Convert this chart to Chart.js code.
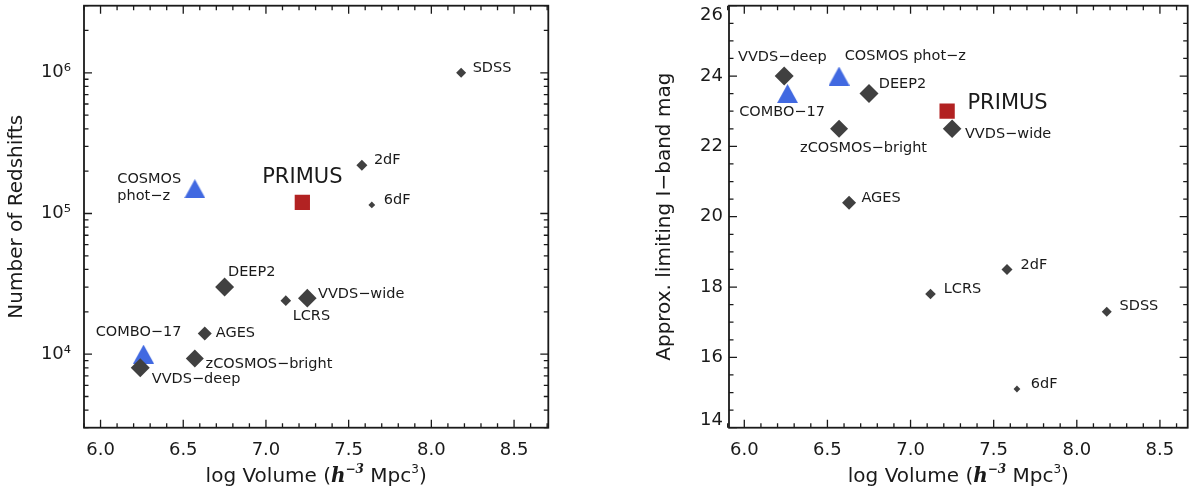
<!DOCTYPE html>
<html>
<head>
<meta charset="utf-8">
<script src="https://cdn.jsdelivr.net/npm/chart.js@4.4.1/dist/chart.umd.min.js"></script>
<style>
  html, body { margin: 0; padding: 0; background: #fff; }
  .panel { position: absolute; top: 0; width: 595px; height: 491px; }
  #left { left: 0; }
  #right { left: 595px; }
</style>
</head>
<body>
<div class="panel" id="left"><canvas id="nzChart"></canvas></div>
<div class="panel" id="right"><canvas id="magChart"></canvas></div>
<script>
// spectroscopic surveys
const surveys    = ['SDSS', '2dF', '6dF', 'LCRS', 'AGES', 'DEEP2', 'VVDS−wide', 'zCOSMOS−bright', 'VVDS−deep'];
const log_volume = [8.18, 7.58, 7.64, 7.12, 6.63, 6.75, 7.25, 6.57, 6.24];
const n_redshift = [1.0e6, 2.2e5, 1.15e5, 2.4e4, 1.4e4, 3.0e4, 2.5e4, 9.3e3, 8.0e3];
const i_limit    = [17.3, 18.5, 15.1, 17.8, 20.4, 23.5, 22.5, 22.5, 24.0];

// photometric-redshift surveys
const photoz_surveys    = ['COSMOS phot−z', 'COMBO−17'];
const photoz_log_volume = [6.57, 6.26];
const photoz_n_redshift = [1.5e5, 1.0e4];
const photoz_i_limit    = [24.0, 23.5];

// PRIMUS
const primus_name       = ['PRIMUS'];
const primus_log_volume = [7.22];
const primus_n_redshift = [1.2e5];
const primus_i_limit    = [23.0];

// tick labels
const x_ticks   = [6.0, 6.5, 7.0, 7.5, 8.0, 8.5];
const n_ticks   = [1e4, 1e5, 1e6];
const mag_ticks = [14, 16, 18, 20, 22, 24, 26];

//styles
const DARK = '#404040', BLUE = '#4169e1', RED = '#b22222', INK = '#1a1a1a';
const FONT = "'DejaVu Sans', sans-serif";

// diamond half-diagonals in px
const diamond_size = {
  'SDSS': 5, '2dF': 5.5, '6dF': 3.4, 'LCRS': 5.3, 'AGES': 7,
  'DEEP2': 9.5, 'VVDS−wide': 9.3, 'zCOSMOS−bright': 9, 'VVDS−deep': 9.5
};

// label offsets from each marker: dx, dy, align, font size, extra lines
const nz_place = {
  'SDSS': {dx: 11.5, dy: -4.3},
  '2dF': {dx: 12, dy: -4.7},
  '6dF': {dx: 12, dy: -5},
  'LCRS': {dx: 25.6, dy: 15.7, align: 'center'},
  'AGES': {dx: 11, dy: -0.7},
  'DEEP2': {dx: 3.4, dy: -14.7},
  'VVDS−wide': {dx: 10.7, dy: -4},
  'zCOSMOS−bright': {dx: 10.7, dy: 5.7},
  'VVDS−deep': {dx: 11.5, dy: 11.7},
  'COSMOS phot−z': {dx: -77.5, dy: -9.2, lines: ['COSMOS', 'phot−z'], lh: 16.4},
  'COMBO−17': {dx: -5, dy: -21.7, align: 'center'},
  'PRIMUS': {dx: 0, dy: -25, align: 'center', size: 21}
};
const mag_place = {
  'SDSS': {dx: 12.8, dy: -5.3},
  '2dF': {dx: 13.5, dy: -4.3},
  '6dF': {dx: 13.9, dy: -5},
  'LCRS': {dx: 13.2, dy: -5},
  'AGES': {dx: 12.4, dy: -4.7},
  'DEEP2': {dx: 9.8, dy: -9},
  'VVDS−wide': {dx: 12.8, dy: 5.3},
  'zCOSMOS−bright': {dx: 24.5, dy: 19, align: 'center'},
  'VVDS−deep': {dx: -1.9, dy: -18.3, align: 'center'},
  'COSMOS phot−z': {dx: 5.6, dy: -19.3},
  'COMBO−17': {dx: -5.5, dy: 18.8, align: 'center'},
  'PRIMUS': {dx: 20.3, dy: -7.3, size: 21}
};

// triangle drawn on its bounding box, so it is centred like the original symbol
function triangle(w, h, color) {
  const c = document.createElement('canvas');
  c.width = w; c.height = h;
  const g = c.getContext('2d');
  g.fillStyle = color;
  g.beginPath();
  g.moveTo(w / 2, 0); g.lineTo(w, h); g.lineTo(0, h);
  g.closePath(); g.fill();
  return c;
}
const tri = triangle(21, 19, BLUE);

// minor tick positions
const x_minor = [];
for (let k = 59; k <= 87; k++) if (k % 5) x_minor.push(k / 10);
const n_minor = [];
for (let e = 3; e <= 6; e++) for (let m = 2; m <= 9; m++) {
  const v = m * Math.pow(10, e);
  if (v >= 3e3 && v <= 3e6) n_minor.push(v);
}
const mag_minor = [];
for (let k = 28; k <= 52; k++) if (k % 4) mag_minor.push(k / 2);

//frame with inward ticks on all four sides
const framePlugin = {
  id: 'frame',
  beforeDraw(chart, args, opts) {
    // keep the end labels of the y axis inside the frame, as in the original
    if (!opts.clampEnds) return;
    const y = chart.scales.y;
    const items = y.getLabelItems ? y.getLabelItems() : null;
    if (!items || !items.length) return;
    const a = chart.chartArea;
    items.forEach(it => {
      const t = it.options.translation;
      if (Math.abs(t[1] - a.bottom) < 1) t[1] -= 7.5;
      else if (Math.abs(t[1] - a.top) < 1) t[1] += 9.5;
    });
  },
  afterDraw(chart, args, opts) {
    const {ctx, chartArea: a, scales: {x, y}} = chart;
    ctx.save();
    ctx.strokeStyle = INK;
    ctx.lineWidth = 1.3;
    ctx.beginPath();
    const xt = (vals, len) => vals.forEach(v => {
      const p = x.getPixelForValue(v);
      ctx.moveTo(p, a.bottom); ctx.lineTo(p, a.bottom - len);
      ctx.moveTo(p, a.top); ctx.lineTo(p, a.top + len);
    });
    const yt = (vals, len) => vals.forEach(v => {
      const p = y.getPixelForValue(v);
      ctx.moveTo(a.left, p); ctx.lineTo(a.left + len, p);
      ctx.moveTo(a.right, p); ctx.lineTo(a.right - len, p);
    });
    xt(x_ticks, 8); xt(x_minor, 4.5);
    yt(opts.yMajor, 8); yt(opts.yMinor, 4.5);
    ctx.stroke();
    ctx.lineWidth = 1.8;
    ctx.strokeRect(a.left, a.top, a.width, a.height);
    ctx.restore();
  }
};

const labelPlugin = {
  id: 'pointLabels',
  afterDatasetsDraw(chart, args, opts) {
    const ctx = chart.ctx;
    ctx.save();
    ctx.fillStyle = INK;
    ctx.textBaseline = 'middle';
    chart.data.datasets.forEach((ds, di) => {
      chart.getDatasetMeta(di).data.forEach((pt, i) => {
        const name = ds.names[i];
        const p = opts.place[name];
        ctx.font = (p.size || 14.5) + 'px ' + FONT;
        ctx.textAlign = p.align || 'left';
        const lines = p.lines || [name];
        lines.forEach((t, k) => ctx.fillText(t, pt.x + p.dx, pt.y + p.dy + k * (p.lh || 0)));
      });
    });
    ctx.restore();
  }
};

// x title with the bold italic h
const xTitlePlugin = {
  id: 'xTitle',
  afterDraw(chart) {
    const ctx = chart.ctx, a = chart.chartArea;
    const parts = [
      {t: 'log Volume (', f: '20px ' + FONT, rise: 0},
      {t: 'h', f: "italic bold 20px 'DejaVu Serif', serif", rise: 0},
      {t: '−3', f: "italic bold 12px 'DejaVu Serif', serif", rise: 9},
      {t: ' Mpc', f: '20px ' + FONT, rise: 0},
      {t: '3', f: '12px ' + FONT, rise: 9},
      {t: ')', f: '20px ' + FONT, rise: 0}
    ];
    ctx.save();
    ctx.fillStyle = INK;
    ctx.textBaseline = 'alphabetic';
    ctx.textAlign = 'left';
    let total = 0;
    parts.forEach(s => { ctx.font = s.f; s.w = ctx.measureText(s.t).width; total += s.w; });
    let x = (a.left + a.right) / 2 - total / 2;
    const base = chart.height - 9;
    parts.forEach(s => { ctx.font = s.f; ctx.fillText(s.t, x, base - s.rise); x += s.w; });
    ctx.restore();
  }
};

const sup = {4: '⁴', 5: '⁵', 6: '⁶'};

function makePanel(canvasId, o) {
  return new Chart(document.getElementById(canvasId), {
    type: 'scatter',
    data: {
      datasets: [{
        names: surveys,
        data: log_volume.map((v, i) => ({x: v, y: o.y[i]})),
        pointStyle: 'rectRot',
        pointRadius: surveys.map(s => diamond_size[s]),
        backgroundColor: DARK,
        borderWidth: 0
      }, {
        names: photoz_surveys,
        data: photoz_log_volume.map((v, i) => ({x: v, y: o.photoY[i]})),
        pointStyle: tri,
        pointRadius: 10,
        backgroundColor: BLUE,
        borderWidth: 0
      }, {
        names: primus_name,
        data: primus_log_volume.map((v, i) => ({x: v, y: o.primusY[i]})),
        pointStyle: 'rect',
        pointRadius: 10.8,
        backgroundColor: RED,
        borderWidth: 0
      }]
    },
    options: {
      animation: false,
      responsive: true,
      maintainAspectRatio: false,
      events: [],
      layout: {autoPadding: false, padding: {top: 5.7, right: o.padRight, left: 0, bottom: 0}},
      plugins: {
        legend: {display: false},
        tooltip: {enabled: false},
        pointLabels: {place: o.place},
        frame: {yMajor: o.yTicks, yMinor: o.yMinor, clampEnds: o.clampEnds}
      },
      scales: {
        x: {
          type: 'linear', min: o.xMin, max: o.xMax,
          grid: {display: false, drawTicks: true, tickLength: 12},
          border: {display: false},
          afterBuildTicks: s => { s.ticks = x_ticks.map(v => ({value: v})); },
          afterFit: s => { s.height = 63.3; },
          ticks: {
            padding: 0, color: INK, autoSkip: false, maxRotation: 0,
            font: {family: FONT, size: 18},
            callback: v => Number(v).toFixed(1)
          }
        },
        y: {
          type: o.yType, min: o.yMin, max: o.yMax,
          grid: {display: false, drawTicks: true, tickLength: o.tickGap},
          border: {display: false},
          afterBuildTicks: s => { s.ticks = o.yTicks.map(v => ({value: v})); },
          afterFit: s => { s.width = o.yWidth; },
          ticks: {
            padding: 0, color: INK, autoSkip: false,
            font: {family: FONT, size: 18, lineHeight: 0.6},
            callback: o.yLabel
          },
          title: {
            display: true, text: o.yTitle, color: INK,
            font: {family: FONT, size: 20, lineHeight: 1.2},
            padding: {top: o.titlePad, bottom: 0}
          }
        }
      }
    },
    plugins: [framePlugin, labelPlugin, xTitlePlugin]
  });
}

makePanel('nzChart', {
  y: n_redshift, photoY: photoz_n_redshift, primusY: primus_n_redshift,
  place: nz_place,
  xMin: 5.9, xMax: 8.707, padRight: 46.7,
  yType: 'logarithmic', yMin: 3e3, yMax: 3e6,
  yTicks: n_ticks, yMinor: n_minor,
  yLabel: v => '10' + sup[Math.round(Math.log10(v))],
  yTitle: 'Number of Redshifts',
  yWidth: 84, tickGap: 13, titlePad: 5, clampEnds: false
});

makePanel('magChart', {
  y: i_limit, photoY: photoz_i_limit, primusY: primus_i_limit,
  place: mag_place,
  xMin: 5.908, xMax: 8.667, padRight: 2.3,
  yType: 'linear', yMin: 14, yMax: 26,
  yTicks: mag_ticks, yMinor: mag_minor,
  yLabel: v => String(v),
  yTitle: 'Approx. limiting I−band mag',
  yWidth: 134, tickGap: 6, titlePad: 58, clampEnds: true
});
</script>
</body>
</html>
